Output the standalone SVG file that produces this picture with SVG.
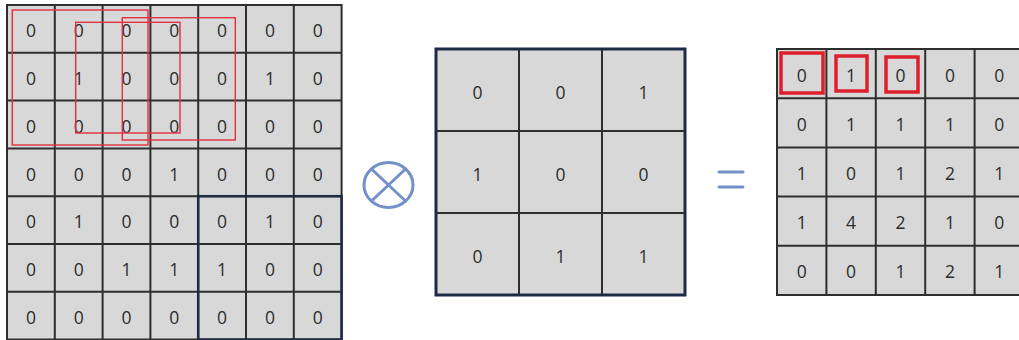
<svg xmlns="http://www.w3.org/2000/svg" width="1019" height="340" viewBox="0 0 1019 340">
<style>
.cell{fill:#d8d8d8}
.grid{fill:none;stroke:#2e2e2e;stroke-width:2}
.navy{fill:none;stroke:#1f2b45;stroke-width:2.5}
.thin-red{fill:none;stroke:#e2303f;stroke-width:1.4}
.thick-red{fill:none;stroke:#dd1f2d;stroke-width:3.5}
.op{fill:none;stroke:#7390c8;stroke-width:3;stroke-linecap:round}
text{font-family:"Open Sans","Liberation Sans",sans-serif;font-size:17.5px;font-weight:500;fill:#2c2c2c;text-anchor:middle;dominant-baseline:central}
</style>
<rect width="1019" height="340" fill="#ffffff"/>

<g id="input-grid">
<rect class="cell" x="7" y="5" width="334.6" height="334.6"/>
<path class="grid" d="M7 5H341.6V339.6H7Z M54.8 5V339.6 M102.6 5V339.6 M150.4 5V339.6 M198.2 5V339.6 M246 5V339.6 M293.8 5V339.6 M7 52.8H341.6 M7 100.6H341.6 M7 148.4H341.6 M7 196.2H341.6 M7 244H341.6 M7 291.8H341.6"/>
<g>
<text x="30.9" y="30">0</text><text x="78.7" y="30">0</text><text x="126.5" y="30">0</text><text x="174.3" y="30">0</text><text x="222.1" y="30">0</text><text x="269.9" y="30">0</text><text x="317.7" y="30">0</text>
<text x="30.9" y="78">0</text><text x="78.7" y="78">1</text><text x="126.5" y="78">0</text><text x="174.3" y="78">0</text><text x="222.1" y="78">0</text><text x="269.9" y="78">1</text><text x="317.7" y="78">0</text>
<text x="30.9" y="125.5">0</text><text x="78.7" y="125.5">0</text><text x="126.5" y="125.5">0</text><text x="174.3" y="125.5">0</text><text x="222.1" y="125.5">0</text><text x="269.9" y="125.5">0</text><text x="317.7" y="125.5">0</text>
<text x="30.9" y="173.5">0</text><text x="78.7" y="173.5">0</text><text x="126.5" y="173.5">0</text><text x="174.3" y="173.5">1</text><text x="222.1" y="173.5">0</text><text x="269.9" y="173.5">0</text><text x="317.7" y="173.5">0</text>
<text x="30.9" y="221">0</text><text x="78.7" y="221">1</text><text x="126.5" y="221">0</text><text x="174.3" y="221">0</text><text x="222.1" y="221">0</text><text x="269.9" y="221">1</text><text x="317.7" y="221">0</text>
<text x="30.9" y="269">0</text><text x="78.7" y="269">0</text><text x="126.5" y="269">1</text><text x="174.3" y="269">1</text><text x="222.1" y="269">1</text><text x="269.9" y="269">0</text><text x="317.7" y="269">0</text>
<text x="30.9" y="317">0</text><text x="78.7" y="317">0</text><text x="126.5" y="317">0</text><text x="174.3" y="317">0</text><text x="222.1" y="317">0</text><text x="269.9" y="317">0</text><text x="317.7" y="317">0</text>
</g>
<rect class="navy" x="198.2" y="196.2" width="143.4" height="143.4"/>
<rect class="thin-red" x="12.3" y="10" width="135.7" height="135"/>
<rect class="thin-red" x="75.7" y="22.3" width="104.3" height="110.7"/>
<rect class="thin-red" x="122.3" y="17.7" width="113" height="122.3"/>
</g>

<g id="convolve-symbol">
<ellipse class="op" cx="388.5" cy="185" rx="24.5" ry="22.5" stroke-width="2.6"/>
<path class="op" d="M371.5 169L405.5 201 M405.5 169L371.5 201" stroke-width="2.4"/>
</g>

<g id="kernel-grid">
<rect class="cell" x="436" y="49" width="249" height="246"/>
<path class="grid" d="M519 49V295 M602 49V295 M436 131H685 M436 213H685"/>
<rect fill="none" stroke="#1f2b45" stroke-width="3" x="436" y="49" width="249" height="246"/>
<text x="477.5" y="92">0</text><text x="560.5" y="92">0</text><text x="643.5" y="92">1</text>
<text x="477.5" y="174">1</text><text x="560.5" y="174">0</text><text x="643.5" y="174">0</text>
<text x="477.5" y="256">0</text><text x="560.5" y="256">1</text><text x="643.5" y="256">1</text>
</g>

<g id="equals-symbol">
<path class="op" d="M719 172H743 M719 187H743"/>
</g>

<g id="output-grid">
<rect class="cell" x="777" y="49" width="247" height="246"/>
<path class="grid" stroke="#3a3a3a" d="M1024 49H777V295H1024 M826.4 49V295 M875.8 49V295 M925.2 49V295 M974.6 49V295 M777 98.2H1024 M777 147.4H1024 M777 196.6H1024 M777 245.8H1024"/>
<text x="801.7" y="74.6">0</text><text x="851.1" y="74.6">1</text><text x="900.5" y="74.6">0</text><text x="949.9" y="74.6">0</text><text x="999.3" y="74.6">0</text>
<text x="801.7" y="123.8">0</text><text x="851.1" y="123.8">1</text><text x="900.5" y="123.8">1</text><text x="949.9" y="123.8">1</text><text x="999.3" y="123.8">0</text>
<text x="801.7" y="173">1</text><text x="851.1" y="173">0</text><text x="900.5" y="173">1</text><text x="949.9" y="173">2</text><text x="999.3" y="173">1</text>
<text x="801.7" y="222.2">1</text><text x="851.1" y="222.2">4</text><text x="900.5" y="222.2">2</text><text x="949.9" y="222.2">1</text><text x="999.3" y="222.2">0</text>
<text x="801.7" y="271.4">0</text><text x="851.1" y="271.4">0</text><text x="900.5" y="271.4">1</text><text x="949.9" y="271.4">2</text><text x="999.3" y="271.4">1</text>
<rect class="thick-red" x="781" y="53" width="42" height="40"/>
<rect class="thick-red" x="836" y="56" width="31" height="35"/>
<rect class="thick-red" x="886" y="57" width="32" height="35"/>
</g>
</svg>
